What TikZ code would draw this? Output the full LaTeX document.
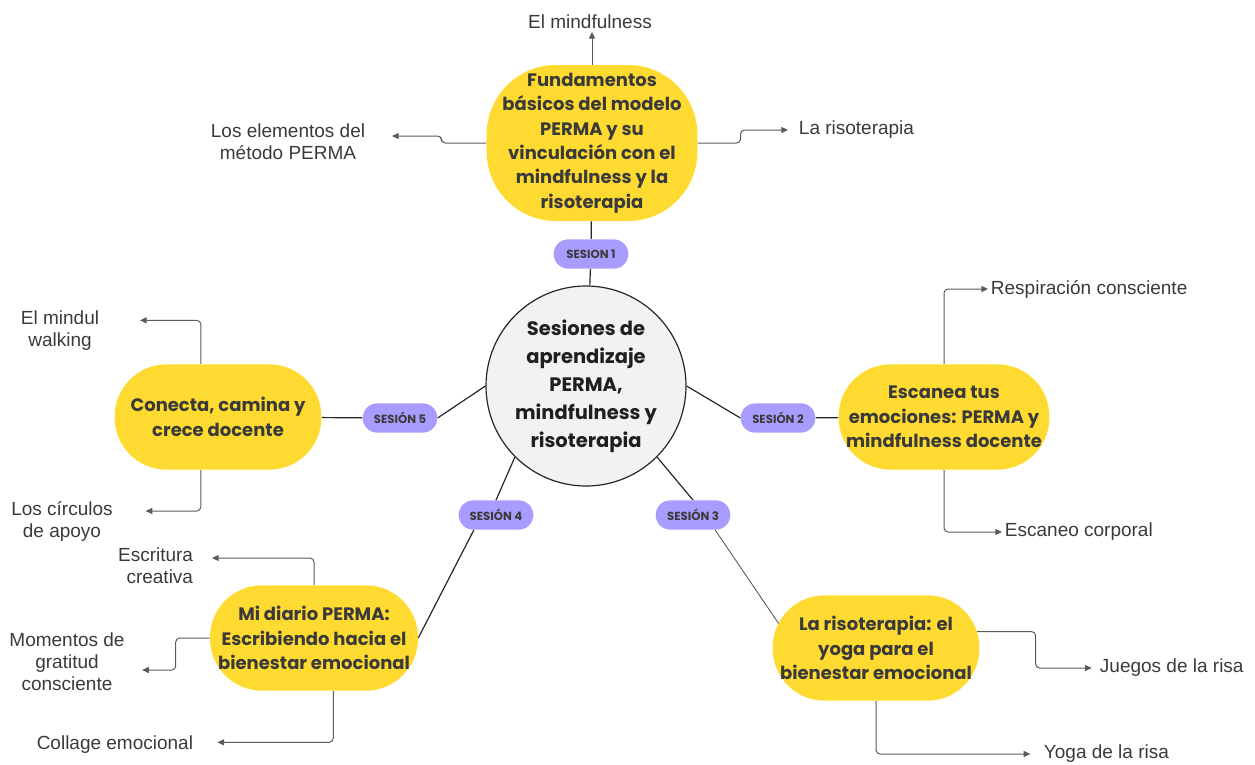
\documentclass[tikz,border=0pt]{standalone}
\usepackage{fontspec}
\setmainfont{Liberation Sans}
\newfontfamily\roundfont{Poppins}
\usetikzlibrary{positioning,arrows.meta}
\pgfdeclarelayer{background}
\pgfsetlayers{background,main}
\definecolor{sunyellow}{HTML}{FFDA30}
\definecolor{lavender}{HTML}{A99CFF}
\definecolor{hubgray}{HTML}{F2F2F2}
\definecolor{inkgray}{HTML}{3A3A3A}
\definecolor{wiregray}{HTML}{5A5A5A}

\begin{document}
\begin{tikzpicture}[x=0.75pt,y=-0.75pt,
  topic/.style={rectangle, rounded corners=39pt, fill=sunyellow, align=center, text=inkgray, inner sep=0pt,
    minimum width=155pt, minimum height=79pt, font=\roundfont\bfseries\fontsize{13.5}{18.3}\selectfont},
  badge/.style={rectangle, rounded corners=11pt, fill=lavender, text=inkgray, inner sep=0pt,
    minimum width=56pt, minimum height=22pt, font=\roundfont\bfseries\fontsize{8.8}{10}\selectfont},
  leaf/.style={align=center, text=inkgray, inner sep=2pt, font=\fontsize{14.25}{16.5}\selectfont},
  spoke/.style={draw=black!85, line width=0.9pt},
  link/.style={draw=wiregray, line width=0.75pt, rounded corners=3pt, -{Triangle[length=5pt,width=4.5pt]}}]
\useasboundingbox (0,0) rectangle (1255,764);

\node[circle, draw=black!85, line width=0.9pt, fill=hubgray, minimum size=150pt, inner sep=0pt, align=center, text=black!88,
  font=\roundfont\bfseries\fontsize{14.6}{21}\selectfont] (hub) at (586,386) {Sesiones de\\aprendizaje\\PERMA,\\mindfulness y\\risoterapia};

\node[topic, rounded corners=52pt, minimum width=158pt, minimum height=117pt] (fund) at (592,143) {Fundamentos\\básicos del modelo\\PERMA y su\\vinculación con el\\mindfulness y la\\risoterapia};
\node[topic, minimum width=158pt] (escanea) at (944,417) {Escanea tus\\emociones: PERMA y\\mindfulness docente};
\node[topic] (risa) at (876,648) {La risoterapia: el\\yoga para el\\bienestar emocional};
\node[topic, minimum width=156pt] (diario) at (314,638) {Mi diario PERMA:\\Escribiendo hacia el\\bienestar emocional};
\node[topic] (conecta) at (218,417) {Conecta, camina y\\crece docente};

\node[badge] (ses1) at (591,254) {SESION 1};
\node[badge] (ses2) at (778,418) {SESIÓN 2};
\node[badge] (ses3) at (693,515) {SESIÓN 3};
\node[badge] (ses4) at (496,515) {SESIÓN 4};
\node[badge] (ses5) at (400,418) {SESIÓN 5};

\node[leaf] (mindful) at (590,22) {El mindfulness};
\node[leaf] (elementos) at (288,142) {Los elementos del\\método PERMA};
\node[leaf, anchor=west] (risoterapia) at (796,130) {La risoterapia};
\node[leaf, anchor=west] (respira) at (988,289) {Respiración consciente};
\node[leaf, anchor=west] (escaneo) at (1002,532) {Escaneo corporal};
\node[leaf, anchor=west] (juegos) at (1097,668) {Juegos de la risa};
\node[leaf, anchor=west] (yoga) at (1041,754) {Yoga de la risa};
\node[leaf, anchor=east, align=right] (escritura) at (196,566) {Escritura\\creativa};
\node[leaf] (gratitud) at (67,662) {Momentos de\\gratitud\\consciente};
\node[leaf, anchor=east] (collage) at (196,745) {Collage emocional};
\node[leaf] (walking) at (60,331) {El mindul\\walking};
\node[leaf] (circulos) at (62,521) {Los círculos\\de apoyo};

\begin{pgfonlayer}{background}
\draw[spoke] (fund) -- (ses1) -- (hub);
\draw[spoke] (hub.east) -- (ses2.west) (ses2) -- (escanea);
\draw[spoke] (hub.-45) -- (ses3.north);
\draw[spoke, line width=0.6pt, draw=black!70, shorten >=-10pt] (ses3.-34) -- (risa.162);
\draw[spoke] (hub.225) -- (ses4.north) (ses4.214) -- (diario.east);
\draw[spoke] (hub.west) -- (ses5.east) (ses5) -- (conecta);

\draw[link] (fund.north) -- (fund.north |- mindful.south);
\draw[link] (fund.west) -- ++(-45,0) |- ([xshift=18pt,yshift=4.5pt]elementos.east);
\draw[link] (fund.east) -- ++(43,0) |- ([xshift=-6pt]risoterapia.west);
\draw[link] (escanea.north) |- (respira.west);
\draw[link] (escanea.south) |- (escaneo.west);
\draw[link, shorten <=-3pt] (risa.9) -- ++(56,0) |- ([xshift=-4pt]juegos.west);
\draw[link] (risa.south) |- ([xshift=-8pt]yoga.west);
\draw[link] (diario.north) |- ([xshift=12pt,yshift=6pt]escritura.east);
\draw[link] (diario.west) -- ++(-34,0) |- ([xshift=11pt,yshift=-6pt]gratitud.east);
\draw[link] (diario.290) |- ([xshift=16pt,yshift=2pt]collage.east);
\draw[link] (conecta.108) |- ([xshift=28.5pt,yshift=8pt]walking.east);
\draw[link] (conecta.252) |- ([xshift=22.5pt,yshift=7.5pt]circulos.east);
\end{pgfonlayer}
\end{tikzpicture}
\end{document}
